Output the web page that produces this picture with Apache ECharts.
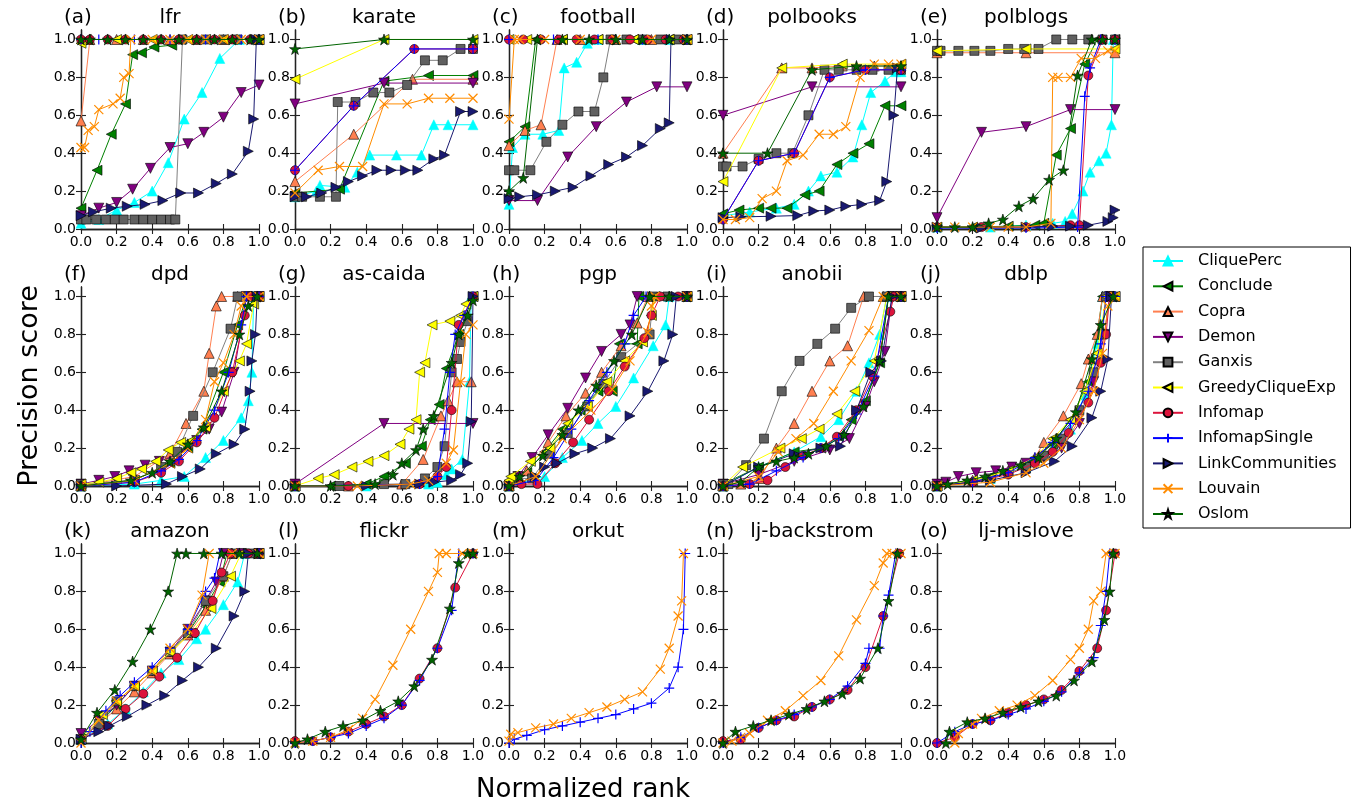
<!DOCTYPE html>
<html><head><meta charset="utf-8">
<script src="https://cdn.jsdelivr.net/npm/echarts@6/dist/echarts.min.js"></script>
<style>html,body{margin:0;padding:0;background:#fff}#c{width:1362px;height:806px}</style>
</head><body><div id="c"></div>
<script>
const methods = ['CliquePerc','Conclude','Copra','Demon','Ganxis','GreedyCliqueExp','Infomap','InfomapSingle','LinkCommunities','Louvain','Oslom'];
const panelLabels = ['(a)','(b)','(c)','(d)','(e)','(f)','(g)','(h)','(i)','(j)','(k)','(l)','(m)','(n)','(o)'];
const panelNames = ['lfr','karate','football','polbooks','polblogs','dpd','as-caida','pgp','anobii','dblp','amazon','flickr','orkut','lj-backstrom','lj-mislove'];
const tickValues = [0,0.2,0.4,0.6,0.8,1.0];
const tickLabels = ['0.0','0.2','0.4','0.6','0.8','1.0'];
const xTitle = 'Normalized rank';
const yTitle = 'Precision score';

// each panel: one list per method, in the order of `methods`; [normalized rank, precision]
const lfr = [
 [[0,0.03],[0.1,0.05],[0.2,0.1],[0.3,0.14],[0.4,0.2],[0.49,0.35],[0.58,0.58],[0.68,0.72],[0.78,0.9],[0.89,1.0],[1,1.0]],
 [[0,0.11],[0.09,0.31],[0.17,0.5],[0.25,0.66],[0.29,0.92],[0.34,0.93],[0.41,0.96],[0.51,0.97],[0.56,1.0],[0.7,1.0],[0.85,1.0],[1,1.0]],
 [[0,0.57],[0.05,1.0],[0.2,1.0],[0.35,1.0],[0.5,1.0],[0.65,1.0],[0.8,1.0],[1,1.0]],
 [[0,0.07],[0.1,0.11],[0.2,0.14],[0.29,0.21],[0.39,0.32],[0.5,0.43],[0.6,0.45],[0.69,0.51],[0.8,0.59],[0.9,0.72],[1,0.76]],
 [[0,0.05],[0.03,0.05],[0.085,0.05],[0.14,0.05],[0.19,0.05],[0.24,0.05],[0.3,0.05],[0.35,0.05],[0.4,0.05],[0.45,0.05],[0.5,0.05],[0.53,0.05],[0.57,1.0],[0.7,1.0],[0.8,1.0],[0.88,1.0],[1,1.0]],
 [[0,0.98],[0.03,1.0],[0.2,1.0],[0.4,1.0],[0.6,1.0],[0.8,1.0],[1,1.0]],
 [[0,1.0],[0.05,1.0],[0.15,1.0],[0.25,1.0],[0.35,1.0],[0.45,1.0],[0.55,1.0],[0.65,1.0],[0.75,1.0],[0.85,1.0],[0.95,1.0]],
 [[0,1.0],[0.1,1.0],[0.3,1.0],[0.5,1.0],[0.7,1.0],[0.9,1.0],[1,1.0]],
 [[0,0.07],[0.07,0.09],[0.17,0.11],[0.26,0.12],[0.36,0.13],[0.46,0.15],[0.56,0.19],[0.66,0.19],[0.76,0.24],[0.85,0.29],[0.94,0.41],[0.97,0.58],[0.985,1.0],[1,1.0]],
 [[0,0.43],[0.02,0.43],[0.04,0.52],[0.075,0.54],[0.1,0.63],[0.18,0.66],[0.22,0.69],[0.24,0.8],[0.27,0.82],[0.28,1.0],[0.4,1.0],[0.5,1.0],[0.6,1.0],[0.7,1.0],[0.8,1.0],[0.9,1.0],[1,1.0]],
 [[0,1.0],[0.05,1.0],[0.15,1.0],[0.25,1.0],[0.35,1.0],[0.45,1.0],[0.55,1.0],[0.65,1.0],[0.75,1.0],[0.85,1.0],[0.95,1.0],[1,1.0]]
];
const karate = [
 [[0,0.17],[0.12,0.2],[0.14,0.23],[0.28,0.22],[0.35,0.3],[0.42,0.39],[0.57,0.39],[0.71,0.39],[0.78,0.55],[0.86,0.55],[1,0.55]],
 [[0,0.19],[0.25,0.21],[0.5,0.78],[0.75,0.81],[1,0.81]],
 [[0,0.25],[0.33,0.5],[0.66,0.79],[1,0.79]],
 [[0,0.66],[0.5,0.77],[1,0.77]],
 [[0,0.17],[0.04,0.17],[0.14,0.17],[0.23,0.17],[0.24,0.67],[0.34,0.67],[0.44,0.72],[0.53,0.72],[0.63,0.76],[0.73,0.89],[0.83,0.89],[0.93,0.95],[1,0.95]],
 [[0,0.79],[0.5,1.0],[1,1.0]],
 [[0,0.31],[0.33,0.65],[0.67,0.95],[1,0.95]],
 [[0,0.31],[0.33,0.65],[0.67,0.95],[1,0.95]],
 [[0,0.17],[0.065,0.17],[0.15,0.19],[0.23,0.22],[0.3,0.25],[0.38,0.28],[0.46,0.31],[0.54,0.31],[0.62,0.31],[0.69,0.31],[0.78,0.37],[0.84,0.39],[0.93,0.62],[1,0.62]],
 [[0,0.19],[0.13,0.31],[0.25,0.33],[0.38,0.33],[0.5,0.66],[0.63,0.66],[0.75,0.69],[0.87,0.69],[1,0.69]],
 [[0,0.95],[0.5,1.0],[1,1.0]]
];
const football = [
 [[0,0.13],[0.02,0.43],[0.09,0.5],[0.19,0.5],[0.28,0.52],[0.31,0.85],[0.38,0.88],[0.44,0.98],[0.5,1.0],[0.6,1.0],[0.75,1.0],[0.9,1.0],[1,1.0]],
 [[0,0.46],[0.09,0.54],[0.15,1.0],[0.3,1.0],[0.5,1.0],[0.7,1.0],[0.9,1.0],[1,1.0]],
 [[0,0.44],[0.09,0.52],[0.18,0.55],[0.27,1.0],[0.4,1.0],[0.6,1.0],[0.8,1.0],[1,1.0]],
 [[0,0.15],[0.16,0.15],[0.33,0.38],[0.49,0.54],[0.66,0.67],[0.83,0.75],[1,0.75]],
 [[0,0.31],[0.03,0.31],[0.12,0.31],[0.21,0.46],[0.3,0.55],[0.39,0.62],[0.48,0.62],[0.53,0.8],[0.57,1.0],[0.66,1.0],[0.75,1.0],[0.85,1.0],[0.94,1.0],[1,1.0]],
 [[0,1.0],[0.1,1.0],[0.3,1.0],[0.5,1.0],[0.7,1.0],[0.9,1.0],[1,1.0]],
 [[0,1.0],[0.08,1.0],[0.18,1.0],[0.28,1.0],[0.38,1.0],[0.48,1.0],[0.58,1.0],[0.68,1.0],[0.78,1.0],[0.88,1.0],[0.98,1.0]],
 [[0,1.0],[0.25,1.0],[0.5,1.0],[0.75,1.0],[1,1.0]],
 [[0,0.16],[0.06,0.17],[0.16,0.18],[0.26,0.2],[0.36,0.22],[0.46,0.28],[0.56,0.34],[0.66,0.38],[0.75,0.44],[0.85,0.53],[0.9,0.56],[0.91,1.0],[1,1.0]],
 [[0,0.58],[0.03,1.0],[0.06,1.0],[0.2,1.0],[0.4,1.0],[0.6,1.0],[0.8,1.0],[1,1.0]],
 [[0,0.2],[0.08,0.27],[0.16,1.0],[0.3,1.0],[0.45,1.0],[0.6,1.0],[0.75,1.0],[0.9,1.0],[1,1.0]]
];
const polbooks = [
 [[0,0.07],[0.15,0.09],[0.3,0.11],[0.4,0.13],[0.48,0.2],[0.55,0.28],[0.64,0.3],[0.73,0.38],[0.78,0.55],[0.83,0.72],[0.91,0.78],[0.97,0.83],[1,0.83]],
 [[0,0.08],[0.09,0.1],[0.2,0.11],[0.27,0.11],[0.36,0.11],[0.46,0.18],[0.54,0.2],[0.64,0.34],[0.73,0.4],[0.82,0.45],[0.91,0.65],[1,0.65]],
 [[0,0.4],[0.33,0.85],[0.5,0.85],[0.67,0.86],[0.85,0.86],[1,0.86]],
 [[0,0.6],[0.5,0.75],[1,0.75]],
 [[0,0.33],[0.02,0.33],[0.11,0.33],[0.2,0.37],[0.3,0.4],[0.39,0.4],[0.48,0.6],[0.57,0.84],[0.65,0.84],[0.75,0.84],[0.84,0.84],[0.93,0.84],[1,0.84]],
 [[0,0.25],[0.33,0.85],[0.67,0.87],[1,0.87]],
 [[0,0.05],[0.2,0.36],[0.4,0.4],[0.6,0.8],[0.8,0.84],[1,0.84]],
 [[0,0.05],[0.2,0.36],[0.4,0.4],[0.6,0.8],[0.8,0.84],[1,0.84]],
 [[0,0.06],[0.1,0.064],[0.27,0.067],[0.42,0.071],[0.51,0.095],[0.6,0.1],[0.69,0.12],[0.78,0.13],[0.88,0.15],[0.92,0.25],[0.96,0.6],[0.98,0.85]],
 [[0,0.05],[0.07,0.05],[0.15,0.06],[0.22,0.16],[0.3,0.2],[0.36,0.36],[0.45,0.39],[0.54,0.5],[0.62,0.5],[0.69,0.54],[0.77,0.8],[0.85,0.87],[0.93,0.87],[1,0.87]],
 [[0,0.4],[0.25,0.4],[0.5,0.84],[0.75,0.86],[1,0.86]]
];
const polblogs = [
 [[0,0.01],[0.3,0.01],[0.5,0.02],[0.65,0.03],[0.72,0.04],[0.76,0.08],[0.82,0.2],[0.86,0.3],[0.91,0.36],[0.95,0.4],[0.98,0.55],[0.99,1.0]],
 [[0,0.01],[0.2,0.01],[0.4,0.015],[0.55,0.02],[0.6,0.03],[0.67,0.39],[0.75,0.53],[0.83,0.87],[0.9,1.0],[1,1.0]],
 [[0,0.93],[0.5,0.93],[1,0.93]],
 [[0,0.06],[0.25,0.51],[0.5,0.54],[0.75,0.63],[1,0.63]],
 [[0,0.94],[0.02,0.94],[0.12,0.94],[0.21,0.94],[0.3,0.94],[0.4,0.95],[0.49,0.95],[0.57,0.95],[0.67,1.0],[0.76,1.0],[0.85,1.0],[0.93,1.0],[1,1.0]],
 [[0,0.94],[0.5,0.95],[1,0.95]],
 [[0,0.01],[0.25,0.01],[0.5,0.01],[0.75,0.02],[0.8,0.02],[0.85,0.81],[0.93,1.0],[1,1.0]],
 [[0,0.005],[0.5,0.005],[0.79,0.01],[0.83,0.7],[0.86,0.85],[0.92,1.0],[1,1.0]],
 [[0,0.01],[0.25,0.005],[0.5,0.01],[0.65,0.015],[0.75,0.015],[0.85,0.02],[0.96,0.04],[0.99,0.06],[1,0.1]],
 [[0,0.01],[0.1,0.01],[0.2,0.01],[0.3,0.01],[0.4,0.01],[0.5,0.01],[0.64,0.03],[0.65,0.8],[0.68,0.8],[0.75,0.8],[0.81,0.9],[0.89,0.9],[0.96,0.94],[1,0.94]],
 [[0,0.01],[0.1,0.01],[0.2,0.01],[0.29,0.03],[0.37,0.05],[0.46,0.12],[0.54,0.16],[0.63,0.26],[0.71,0.31],[0.79,0.81],[0.87,1.0],[0.93,1.0],[1,1.0]]
];
const dpd = [
 [[0,0],[0.3,0.01],[0.45,0.03],[0.58,0.05],[0.7,0.15],[0.8,0.24],[0.9,0.36],[0.94,0.45],[0.96,0.6],[0.97,1.0]],
 [[0,0],[0.3,0.03],[0.5,0.12],[0.6,0.2],[0.68,0.3],[0.8,0.6],[0.88,0.85],[0.93,1.0],[1,1.0]],
 [[0,0],[0.3,0.05],[0.5,0.17],[0.59,0.33],[0.69,0.5],[0.72,0.7],[0.76,0.95],[0.79,1.0],[0.88,1.0],[1,1.0]],
 [[0,0.01],[0.1,0.03],[0.19,0.05],[0.27,0.08],[0.36,0.11],[0.44,0.13],[0.55,0.17],[0.65,0.24],[0.72,0.3],[0.79,0.39],[0.86,0.6],[0.93,1.0],[1,1.0]],
 [[0,0.01],[0.3,0.03],[0.45,0.1],[0.54,0.18],[0.63,0.37],[0.74,0.6],[0.84,0.83],[0.88,1.0],[0.94,1.0],[1,1.0]],
 [[0,0.01],[0.1,0.02],[0.2,0.04],[0.28,0.07],[0.34,0.09],[0.42,0.13],[0.49,0.19],[0.56,0.23],[0.62,0.24],[0.7,0.31],[0.8,0.5],[0.89,0.66],[0.93,0.75],[0.97,0.96],[1,1.0]],
 [[0,0],[0.3,0.02],[0.45,0.07],[0.55,0.13],[0.65,0.23],[0.75,0.36],[0.85,0.6],[0.92,0.9],[0.95,1.0],[1,1.0]],
 [[0,0],[0.3,0.02],[0.45,0.08],[0.55,0.14],[0.65,0.24],[0.75,0.4],[0.83,0.6],[0.9,0.85],[0.93,1.0],[1,1.0]],
 [[0,0],[0.2,0],[0.48,0.01],[0.57,0.05],[0.67,0.09],[0.76,0.17],[0.86,0.22],[0.92,0.3],[0.95,0.5],[0.96,0.66],[0.98,0.8],[0.99,1.0]],
 [[0,0],[0.3,0.03],[0.5,0.12],[0.6,0.2],[0.7,0.35],[0.75,0.55],[0.8,0.65],[0.86,0.8],[0.9,0.95],[0.93,1.0],[1,1.0]],
 [[0,0],[0.28,0.03],[0.4,0.07],[0.5,0.13],[0.6,0.22],[0.69,0.31],[0.79,0.5],[0.89,0.8],[0.94,0.95],[0.99,1.0]]
];
const asCaida = [
 [[0,0],[0.4,0],[0.75,0.01],[0.8,0.02],[0.85,0.06],[0.88,0.09],[0.94,0.14],[0.98,0.55],[0.99,1.0]],
 [[0,0],[0.2,0],[0.4,0.01],[0.5,0.05],[0.62,0.12],[0.71,0.21],[0.76,0.35],[0.81,0.43],[0.85,0.62],[0.92,0.8],[1,1.0]],
 [[0,0],[0.3,0],[0.6,0.01],[0.72,0.14],[0.82,0.37],[0.86,0.45],[0.91,0.55],[0.99,0.55]],
 [[0,0.01],[0.5,0.33],[1,0.33]],
 [[0,0],[0.25,0],[0.5,0.01],[0.62,0.01],[0.73,0.04],[0.8,0.1],[0.84,0.21],[0.88,0.6],[0.91,0.67],[0.93,0.76],[0.97,0.87],[1,1.0]],
 [[0,0],[0.13,0.04],[0.22,0.06],[0.32,0.1],[0.41,0.13],[0.5,0.16],[0.59,0.22],[0.64,0.3],[0.68,0.35],[0.7,0.6],[0.73,0.65],[0.77,0.85],[0.87,0.87],[0.93,0.9],[0.96,0.96],[1,1.0]],
 [[0,0],[0.3,0],[0.7,0.01],[0.8,0.05],[0.85,0.1],[0.88,0.4],[0.92,0.85],[1,1.0]],
 [[0,0],[0.7,0.01],[0.8,0.05],[0.84,0.3],[0.87,0.6],[0.9,0.8],[0.95,0.9],[1,1.0]],
 [[0,0],[0.4,0],[0.7,0.01],[0.78,0.02],[0.88,0.03],[0.93,0.06],[0.97,0.12],[0.99,0.34],[1,1.0]],
 [[0,0],[0.35,0],[0.65,0.01],[0.75,0.03],[0.85,0.12],[0.89,0.19],[0.93,0.55],[0.96,0.8],[1,0.85]],
 [[0,0],[0.2,0],[0.45,0.01],[0.55,0.06],[0.6,0.12],[0.68,0.19],[0.72,0.3],[0.78,0.37],[0.88,0.65],[0.92,0.8],[0.97,0.9],[1,0.98]]
];
const pgp = [
 [[0,0],[0.2,0.05],[0.3,0.15],[0.41,0.24],[0.5,0.33],[0.6,0.42],[0.7,0.57],[0.81,0.74],[0.88,0.85],[0.9,1.0],[1,1.0]],
 [[0,0],[0.1,0.07],[0.2,0.18],[0.3,0.3],[0.4,0.4],[0.5,0.5],[0.58,0.5],[0.62,0.75],[0.72,0.75],[0.73,1.0],[1,1.0]],
 [[0,0],[0.1,0.08],[0.22,0.23],[0.32,0.37],[0.43,0.49],[0.52,0.6],[0.63,0.74],[0.72,0.86],[0.78,1.0],[1,1.0]],
 [[0,0],[0.05,0.05],[0.13,0.15],[0.22,0.27],[0.33,0.41],[0.43,0.57],[0.52,0.71],[0.63,0.8],[0.68,0.85],[0.72,1.0],[1,1.0]],
 [[0,0],[0.03,0.04],[0.13,0.04],[0.23,0.17],[0.33,0.28],[0.44,0.42],[0.53,0.54],[0.63,0.68],[0.79,0.8],[0.81,1.0],[0.89,1.0],[1,1.0]],
 [[0,0.03],[0.01,0.05],[0.12,0.13],[0.23,0.2],[0.33,0.33],[0.44,0.42],[0.55,0.55],[0.65,0.66],[0.75,0.76],[0.8,0.9],[0.82,1.0],[1,1.0]],
 [[0,0],[0.07,0.01],[0.16,0.01],[0.26,0.12],[0.36,0.23],[0.45,0.35],[0.56,0.5],[0.65,0.63],[0.76,0.78],[0.8,0.9],[0.85,1.0],[0.95,1.0],[1,1.0]],
 [[0,0],[0.15,0.03],[0.25,0.15],[0.35,0.3],[0.45,0.45],[0.55,0.6],[0.65,0.75],[0.7,0.9],[0.77,1.0],[1,1.0]],
 [[0,0],[0.15,0.05],[0.2,0.1],[0.27,0.12],[0.37,0.17],[0.47,0.2],[0.57,0.25],[0.68,0.37],[0.78,0.5],[0.87,0.66],[0.92,0.8],[0.94,1.0],[1,1.0]],
 [[0,0],[0.15,0.05],[0.3,0.25],[0.46,0.4],[0.58,0.51],[0.68,0.66],[0.78,0.81],[0.8,0.95],[0.82,1.0],[1,1.0]],
 [[0,0],[0.06,0.05],[0.19,0.16],[0.3,0.27],[0.39,0.4],[0.49,0.53],[0.59,0.66],[0.69,0.8],[0.79,1.0],[0.9,1.0],[1,1.0]]
];
const anobii = [
 [[0,0],[0.2,0.1],[0.4,0.18],[0.55,0.26],[0.65,0.35],[0.75,0.5],[0.82,0.65],[0.88,0.8],[0.92,1.0],[1,1.0]],
 [[0,0.01],[0.2,0.1],[0.4,0.18],[0.55,0.2],[0.65,0.26],[0.72,0.35],[0.8,0.45],[0.88,0.65],[0.93,1.0],[1,1.0]],
 [[0,0],[0.1,0.01],[0.21,0.04],[0.3,0.2],[0.4,0.33],[0.5,0.5],[0.6,0.66],[0.7,0.74],[0.79,1.0],[0.9,1.0],[1,1.0]],
 [[0,0.01],[0.2,0.06],[0.4,0.13],[0.6,0.19],[0.71,0.25],[0.8,0.42],[0.85,0.55],[0.91,0.71],[0.95,1.0],[1,1.0]],
 [[0,0.01],[0.03,0.01],[0.13,0.11],[0.23,0.25],[0.33,0.5],[0.43,0.66],[0.53,0.75],[0.63,0.83],[0.72,0.94],[0.82,1.0],[0.92,1.0],[1,1.0]],
 [[0,0],[0.11,0.1],[0.32,0.2],[0.44,0.25],[0.54,0.3],[0.64,0.38],[0.74,0.5],[0.85,0.66],[0.92,1.0],[1,1.0]],
 [[0,0],[0.15,0.01],[0.25,0.03],[0.35,0.1],[0.45,0.16],[0.55,0.2],[0.64,0.26],[0.75,0.4],[0.84,0.58],[0.94,0.92],[0.96,1.0],[1,1.0]],
 [[0,0],[0.15,0.01],[0.3,0.08],[0.45,0.15],[0.55,0.2],[0.65,0.25],[0.75,0.38],[0.85,0.58],[0.93,1.0],[1,1.0]],
 [[0,0],[0.2,0.1],[0.4,0.17],[0.55,0.2],[0.66,0.21],[0.75,0.4],[0.83,0.6],[0.89,0.66],[0.95,1.0],[1,1.0]],
 [[0,0],[0.2,0.05],[0.31,0.18],[0.41,0.25],[0.51,0.33],[0.62,0.5],[0.72,0.66],[0.82,0.82],[0.9,1.0],[1,1.0]],
 [[0,0],[0.1,0.02],[0.2,0.1],[0.3,0.13],[0.4,0.15],[0.48,0.17],[0.58,0.21],[0.68,0.27],[0.79,0.42],[0.88,0.66],[0.93,1.0],[1,1.0]]
];
const dblp = [
 [[0,0],[0.3,0.04],[0.5,0.1],[0.65,0.2],[0.75,0.3],[0.83,0.48],[0.9,0.75],[0.93,1.0],[1,1.0]],
 [[0,0],[0.3,0.05],[0.5,0.12],[0.65,0.22],[0.75,0.35],[0.85,0.55],[0.9,0.8],[0.93,1.0],[1,1.0]],
 [[0,0],[0.2,0.03],[0.4,0.08],[0.55,0.15],[0.6,0.23],[0.71,0.37],[0.81,0.54],[0.85,0.67],[0.9,0.8],[0.93,1.0],[1,1.0]],
 [[0,0.01],[0.05,0.02],[0.12,0.05],[0.22,0.07],[0.33,0.08],[0.42,0.1],[0.5,0.12],[0.6,0.15],[0.7,0.2],[0.8,0.33],[0.88,0.55],[0.94,0.8],[0.97,1.0]],
 [[0,0],[0.3,0.04],[0.5,0.1],[0.6,0.16],[0.7,0.25],[0.8,0.4],[0.88,0.6],[0.93,0.8],[0.95,1.0],[1,1.0]],
 [[0,0],[0.2,0.03],[0.4,0.08],[0.55,0.15],[0.65,0.25],[0.75,0.35],[0.83,0.5],[0.9,0.7],[0.95,1.0],[1,1.0]],
 [[0,0],[0.2,0.02],[0.4,0.06],[0.55,0.12],[0.65,0.18],[0.74,0.28],[0.85,0.44],[0.92,0.65],[0.95,0.8],[0.97,1.0]],
 [[0,0],[0.2,0.02],[0.4,0.07],[0.55,0.15],[0.65,0.23],[0.75,0.33],[0.85,0.5],[0.92,0.75],[0.95,1.0],[1,1.0]],
 [[0,0],[0.3,0.03],[0.5,0.07],[0.66,0.13],[0.76,0.21],[0.87,0.36],[0.92,0.5],[0.96,0.67],[0.98,1.0]],
 [[0,0],[0.3,0.02],[0.5,0.07],[0.6,0.12],[0.7,0.2],[0.8,0.35],[0.88,0.5],[0.93,0.7],[0.96,0.95],[1,1.0]],
 [[0,0],[0.06,0.01],[0.17,0.03],[0.27,0.05],[0.37,0.08],[0.47,0.11],[0.57,0.15],[0.67,0.25],[0.78,0.39],[0.87,0.67],[0.92,0.85],[0.99,1.0]]
];
const amazon = [
 [[0,0.02],[0.15,0.1],[0.25,0.18],[0.35,0.27],[0.45,0.37],[0.55,0.44],[0.65,0.55],[0.7,0.6],[0.8,0.73],[0.88,0.85],[0.92,1.0],[1,1.0]],
 [[0,0.02],[0.1,0.1],[0.2,0.2],[0.3,0.3],[0.4,0.38],[0.5,0.48],[0.6,0.58],[0.7,0.72],[0.78,0.85],[0.82,1.0],[1,1.0]],
 [[0,0.02],[0.2,0.18],[0.3,0.27],[0.4,0.37],[0.5,0.47],[0.6,0.57],[0.7,0.7],[0.8,0.88],[0.85,1.0],[1,1.0]],
 [[0,0.05],[0.1,0.12],[0.2,0.2],[0.3,0.3],[0.4,0.38],[0.5,0.48],[0.6,0.6],[0.7,0.75],[0.76,0.85],[0.8,1.0],[0.9,1.0],[1,1.0]],
 [[0,0.02],[0.1,0.1],[0.2,0.22],[0.3,0.3],[0.4,0.38],[0.5,0.48],[0.6,0.58],[0.7,0.75],[0.8,0.88],[0.85,1.0],[0.95,1.0],[1,1.0]],
 [[0,0.02],[0.12,0.15],[0.2,0.22],[0.3,0.3],[0.4,0.38],[0.5,0.48],[0.62,0.58],[0.73,0.71],[0.84,0.88],[0.9,1.0],[1,1.0]],
 [[0,0.02],[0.15,0.09],[0.25,0.18],[0.35,0.26],[0.44,0.35],[0.54,0.45],[0.64,0.58],[0.74,0.75],[0.79,0.9],[0.84,1.0],[0.94,1.0],[1,1.0]],
 [[0,0],[0.05,0.06],[0.14,0.17],[0.22,0.25],[0.3,0.32],[0.4,0.4],[0.5,0.5],[0.6,0.6],[0.7,0.8],[0.75,0.87],[0.78,1.0],[1,1.0]],
 [[0,0.02],[0.1,0.06],[0.16,0.09],[0.26,0.14],[0.37,0.2],[0.47,0.25],[0.57,0.33],[0.66,0.4],[0.76,0.5],[0.86,0.67],[0.92,0.8],[0.94,1.0],[1,1.0]],
 [[0,0],[0.1,0.12],[0.2,0.22],[0.3,0.3],[0.4,0.38],[0.5,0.5],[0.6,0.6],[0.68,0.78],[0.72,1.0],[0.85,1.0],[1,1.0]],
 [[0,0.02],[0.09,0.16],[0.19,0.28],[0.29,0.43],[0.39,0.6],[0.49,0.8],[0.54,1.0],[0.59,1.0],[0.69,1.0],[0.79,1.0],[0.89,1.0],[0.99,1.0]]
];
const flickr = [
 [],[],[],[],[],[],
 [[0,0.01],[0.1,0.01],[0.2,0.03],[0.3,0.06],[0.4,0.1],[0.5,0.14],[0.6,0.2],[0.7,0.34],[0.8,0.5],[0.9,0.82],[1,1.0]],
 [[0,0],[0.1,0.01],[0.2,0.03],[0.3,0.05],[0.4,0.09],[0.5,0.13],[0.6,0.2],[0.7,0.33],[0.8,0.5],[0.88,0.7],[0.92,1.0],[1,1.0]],
 [],
 [[0,0],[0.1,0.01],[0.2,0.03],[0.3,0.07],[0.38,0.13],[0.45,0.23],[0.55,0.41],[0.65,0.6],[0.75,0.8],[0.8,0.9],[0.81,1.0],[0.85,1.0],[0.94,1.0],[1,1.0]],
 [[0,0],[0.07,0.02],[0.17,0.06],[0.27,0.09],[0.38,0.12],[0.48,0.17],[0.58,0.22],[0.67,0.3],[0.77,0.44],[0.87,0.71],[0.92,0.95],[0.97,1.0],[1,1.0]]
];
const orkut = [
 [],[],[],[],[],[],[],
 [[0,0],[0.03,0.02],[0.1,0.04],[0.2,0.07],[0.3,0.09],[0.4,0.11],[0.5,0.13],[0.6,0.15],[0.7,0.18],[0.8,0.21],[0.9,0.29],[0.95,0.4],[0.98,0.6],[0.99,1.0]],
 [],
 [[0,0.01],[0.01,0.046],[0.05,0.055],[0.15,0.08],[0.25,0.1],[0.35,0.13],[0.45,0.16],[0.55,0.19],[0.65,0.23],[0.75,0.27],[0.85,0.39],[0.9,0.5],[0.95,0.67],[0.97,0.75],[0.98,1.0]],
 []
];
const ljBackstrom = [
 [],[],[],[],[],[],
 [[0,0.01],[0.1,0.02],[0.2,0.08],[0.3,0.12],[0.4,0.14],[0.5,0.19],[0.6,0.23],[0.7,0.28],[0.8,0.4],[0.9,0.67],[0.99,1.0]],
 [[0,0],[0.1,0.03],[0.2,0.08],[0.3,0.12],[0.4,0.15],[0.5,0.19],[0.6,0.23],[0.7,0.3],[0.8,0.42],[0.82,0.5],[0.88,0.5],[0.9,0.67],[0.93,0.78],[0.97,1.0]],
 [],
 [[0,0],[0.05,0.01],[0.1,0.03],[0.15,0.05],[0.25,0.12],[0.35,0.17],[0.45,0.25],[0.55,0.33],[0.65,0.46],[0.75,0.65],[0.85,0.83],[0.9,0.95],[0.92,1.0],[0.95,1.0],[1,1.0]],
 [[0,0],[0.07,0.06],[0.17,0.09],[0.27,0.12],[0.37,0.15],[0.47,0.18],[0.57,0.22],[0.67,0.26],[0.77,0.34],[0.87,0.5],[0.93,0.75],[0.98,1.0]]
];
const ljMislove = [
 [],[],[],[],[],[],
 [[0,0],[0.1,0.03],[0.2,0.1],[0.3,0.12],[0.4,0.16],[0.5,0.2],[0.6,0.23],[0.7,0.28],[0.8,0.38],[0.9,0.5],[0.95,0.7],[1,1.0]],
 [[0,0],[0.1,0.06],[0.2,0.1],[0.3,0.12],[0.4,0.15],[0.5,0.18],[0.6,0.22],[0.7,0.27],[0.8,0.37],[0.88,0.45],[0.92,0.62],[0.95,0.8],[0.97,1.0]],
 [],
 [[0.1,0],[0.12,0.05],[0.2,0.1],[0.25,0.13],[0.35,0.17],[0.45,0.2],[0.55,0.25],[0.65,0.33],[0.75,0.44],[0.8,0.5],[0.85,0.6],[0.88,0.75],[0.92,0.8],[0.95,1.0],[1,1.0]],
 [[0.05,0],[0.07,0.06],[0.17,0.11],[0.27,0.13],[0.37,0.16],[0.47,0.19],[0.57,0.22],[0.67,0.25],[0.77,0.33],[0.87,0.43],[0.94,0.65],[0.97,0.8],[0.99,1.0]]
];
const panels = [lfr, karate, football, polbooks, polblogs, dpd, asCaida, pgp, anobii, dblp, amazon, flickr, orkut, ljBackstrom, ljMislove];

// ---------- styling ----------
const FONT = '"DejaVu Sans", sans-serif';
const TRI_LEFT = 'path://M0,5L10,0L10,10Z';
const TRI_RIGHT = 'path://M10,5L0,0L0,10Z';
const TRI_DOWN = 'path://M0,0L10,0L5,10Z';
const PLUS = 'path://M5,0L5,10M0,5L10,5';
const CROSS = 'path://M0,0L10,10M10,0L0,10';
const STAR = 'path://M5,0L6.18,3.62L10,3.62L6.91,5.86L8.09,9.51L5,7.24L1.91,9.51L3.09,5.86L0,3.62L3.82,3.62Z';
const styles = [
  {line:'#00FFFF', fill:'#00FFFF', edge:'#00FFFF', symbol:'triangle', size:10, bw:0.5},
  {line:'#008000', fill:'#008000', edge:'#000', symbol:TRI_LEFT, size:10, bw:0.6},
  {line:'#FF7F50', fill:'#FF7F50', edge:'#000', symbol:'triangle', size:10, bw:0.6},
  {line:'#800080', fill:'#800080', edge:'#000', symbol:TRI_DOWN, size:10, bw:0.6},
  {line:'#808080', fill:'#606060', edge:'#000', symbol:'rect', size:9, bw:0.6},
  {line:'#FFFF00', fill:'#FFFF00', edge:'#000', symbol:TRI_LEFT, size:10, bw:0.6},
  {line:'#DC143C', fill:'#DC143C', edge:'#000', symbol:'circle', size:9, bw:0.6},
  {line:'#0000FF', fill:'#0000FF', edge:'#0000FF', symbol:PLUS, size:10, bw:1.2},
  {line:'#191970', fill:'#191970', edge:'#000', symbol:TRI_RIGHT, size:10, bw:0.6},
  {line:'#FF8C00', fill:'#FF8C00', edge:'#FF8C00', symbol:CROSS, size:9, bw:1.2},
  {line:'#006400', fill:'#006400', edge:'#000', symbol:STAR, size:11, bw:0.6}
];
const colLeft = [81, 295, 509, 723, 937];
const rowTop = [30, 287, 544];
const PW = 178, PH = 199;
const frame = {show:true, lineStyle:{color:'#222', width:1.3}};
const tick = {show:true, inside:true, length:5, customValues:tickValues, lineStyle:{color:'#222', width:1.1}};
function fmt(v){
  const k = Math.round(v/0.2);
  if (Math.abs(v - tickValues[k]) < 1e-6 && k < tickLabels.length) return tickLabels[k];
  return '';
}

const grid = [], xAxis = [], yAxis = [], series = [], graphic = [];
panels.forEach((panel, i) => {
  const r = Math.floor(i/5), c = i%5;
  const left = colLeft[c], top = rowTop[r];
  grid.push({left:left, top:top, width:PW, height:PH});
  const base = {gridIndex:i, type:'value', min:0, interval:0.2, splitLine:{show:false}, axisLine:frame, axisTick:tick};
  xAxis.push(Object.assign({}, base, {max:1, position:'bottom',
     axisLabel:{show:true, fontSize:14, fontFamily:FONT, color:'#000', margin:6, customValues:tickValues, formatter:fmt}}));
  xAxis.push(Object.assign({}, base, {max:1, position:'top', axisLabel:{show:false}}));
  yAxis.push(Object.assign({}, base, {max:1.05, position:'left',
     axisLabel:{show:true, fontSize:14, fontFamily:FONT, color:'#000', margin:5, customValues:tickValues, formatter:fmt}}));
  yAxis.push(Object.assign({}, base, {max:1.05, position:'right', axisLabel:{show:false}}));
  panel.forEach((pts, m) => {
    const s = styles[m];
    series.push({
      type:'line', name:methods[m], xAxisIndex:2*i, yAxisIndex:2*i,
      data:pts, symbol:s.symbol, symbolSize:s.size, showSymbol:true, showAllSymbol:true,
      lineStyle:{color:s.line, width:1}, itemStyle:{color:s.fill, borderColor:s.edge, borderWidth:s.bw},
      emphasis:{disabled:true}, animation:false, clip:true, z:2+m
    });
  });
  graphic.push({type:'text', x:left-17, y:top-12,
    style:{text:panelLabels[i], font:'20px ' + FONT, fill:'#000', align:'left', verticalAlign:'middle'}});
  graphic.push({type:'text', x:left+PW/2, y:top-12,
    style:{text:panelNames[i], font:'20px ' + FONT, fill:'#000', align:'center', verticalAlign:'middle'}});
});
graphic.push({type:'text', x:30, y:386, rotation:Math.PI/2,
  style:{text:yTitle, font:'27px ' + FONT, fill:'#000', align:'center', verticalAlign:'middle'}});
graphic.push({type:'text', x:583, y:790,
  style:{text:xTitle, font:'26px ' + FONT, fill:'#000', align:'center', verticalAlign:'middle'}});

const chart = echarts.init(document.getElementById('c'), null, {renderer:'canvas'});
chart.setOption({
  animation:false,
  backgroundColor:'#fff',
  grid, xAxis, yAxis, series, graphic,
  legend:{
    data:methods, orient:'vertical', left:1143, top:247,
    borderColor:'#000', borderWidth:1, padding:[6,14,6,9], backgroundColor:'#fff',
    itemWidth:30, itemHeight:11, itemGap:9.3, selectedMode:false,
    textStyle:{fontSize:16, fontFamily:FONT, color:'#000', padding:[0,0,0,10]}
  }
});
</script>
</body></html>
